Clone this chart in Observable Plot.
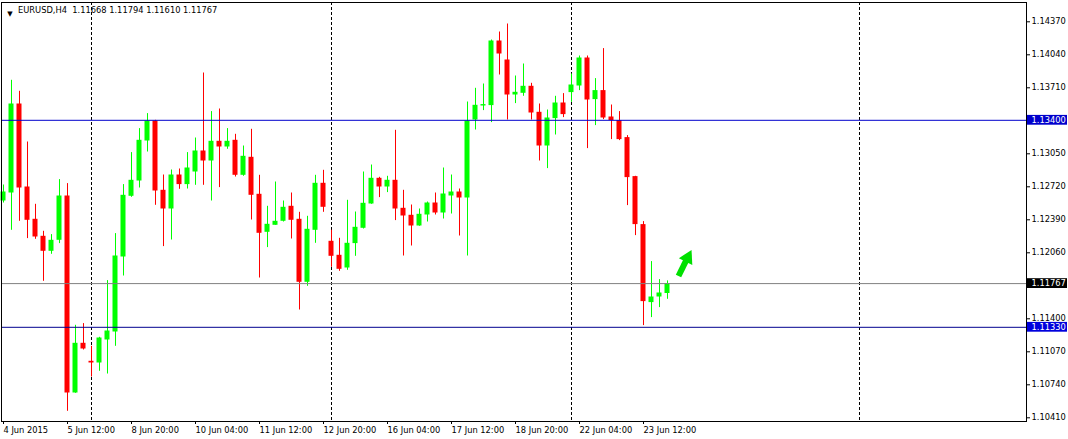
<!DOCTYPE html>
<html>
<head>
<meta charset="utf-8">
<script src="https://cdn.jsdelivr.net/npm/d3@7"></script>
<script src="https://cdn.jsdelivr.net/npm/@observablehq/plot@0.6"></script>
<style>
html, body { margin: 0; padding: 0; background: #ffffff; }
#chart { width: 1068px; height: 439px; overflow: hidden; }
</style>
</head>
<body>
<div id="chart"></div>
<script>
// ---------- data ----------
const symbol = "EURUSD,H4";

const opens = [
  1.12593, 1.12673, 1.13563, 1.12733, 1.12410, 1.12240, 1.12090, 1.12200, 1.12643, 1.10673,
  1.11170, 1.10990, 1.10973, 1.11203, 1.11283, 1.12033, 1.12640, 1.12793, 1.13193, 1.13393,
  1.12700, 1.12513, 1.12853, 1.12757, 1.12883, 1.13093, 1.12993, 1.13190, 1.13133, 1.13200,
  1.12850, 1.13030, 1.12660, 1.12280, 1.12350, 1.12390, 1.12540, 1.12410, 1.11780, 1.12300,
  1.12770, 1.12190, 1.12050, 1.11923, 1.12167, 1.12320, 1.12563, 1.12820, 1.12733, 1.12800,
  1.12520, 1.12450, 1.12343, 1.12453, 1.12573, 1.12473, 1.12643, 1.12683, 1.12623, 1.13403,
  1.13543, 1.13547, 1.14193, 1.14003, 1.13653, 1.13670, 1.13740, 1.13480, 1.13143, 1.13417,
  1.13573, 1.13677, 1.13743, 1.14023, 1.13607, 1.13697, 1.13433, 1.13397, 1.13227, 1.12837,
  1.12357, 1.11577, 1.11633, 1.11668
];
const highs = [
  1.12753, 1.13800, 1.13690, 1.13183, 1.12560, 1.12290, 1.12257, 1.12807, 1.12767, 1.11350,
  1.11367, 1.11140, 1.11230, 1.11797, 1.12267, 1.12757, 1.13077, 1.13317, 1.13467, 1.13400,
  1.12853, 1.12903, 1.12913, 1.13077, 1.13223, 1.13873, 1.13487, 1.13513, 1.13317, 1.13260,
  1.13143, 1.13310, 1.12850, 1.12540, 1.12783, 1.12593, 1.12673, 1.12480, 1.12440, 1.12850,
  1.12900, 1.12300, 1.12220, 1.12600, 1.12483, 1.12883, 1.12953, 1.12830, 1.12840, 1.13300,
  1.12700, 1.12553, 1.12513, 1.12583, 1.12673, 1.12923, 1.12853, 1.12713, 1.13583, 1.13720,
  1.13763, 1.14203, 1.14283, 1.14363, 1.13843, 1.13963, 1.13770, 1.13563, 1.13503, 1.13640,
  1.13667, 1.13863, 1.14043, 1.14043, 1.13817, 1.14117, 1.13553, 1.13487, 1.13247, 1.12840,
  1.12387, 1.11987, 1.11807, 1.11794
];
const lows = [
  1.12573, 1.12300, 1.12390, 1.12217, 1.12210, 1.11790, 1.12060, 1.12167, 1.10490, 1.10670,
  1.11103, 1.10833, 1.10890, 1.10863, 1.11140, 1.11843, 1.12630, 1.12723, 1.13083, 1.12550,
  1.12137, 1.12203, 1.12710, 1.12713, 1.12750, 1.12750, 1.12593, 1.12727, 1.13110, 1.12833,
  1.12840, 1.12403, 1.11823, 1.12127, 1.12350, 1.12383, 1.12213, 1.11503, 1.11740, 1.12170,
  1.12480, 1.11930, 1.11890, 1.11900, 1.12040, 1.12313, 1.12560, 1.12627, 1.12677, 1.12397,
  1.12043, 1.12143, 1.12340, 1.12383, 1.12453, 1.12413, 1.12463, 1.12243, 1.12043, 1.13303,
  1.13497, 1.13377, 1.13853, 1.13403, 1.13567, 1.13640, 1.13403, 1.12993, 1.12917, 1.13253,
  1.13427, 1.13580, 1.13697, 1.13117, 1.13347, 1.13407, 1.13207, 1.13197, 1.12547, 1.12247,
  1.11347, 1.11427, 1.11527, 1.11610
];
const closes = [
  1.12683, 1.13563, 1.12723, 1.12400, 1.12233, 1.12090, 1.12200, 1.12643, 1.10673, 1.11170,
  1.11113, 1.10973, 1.11223, 1.11293, 1.12043, 1.12650, 1.12800, 1.13200, 1.13393, 1.12693,
  1.12513, 1.12853, 1.12757, 1.12923, 1.13093, 1.12993, 1.13190, 1.13133, 1.13190, 1.12850,
  1.13040, 1.12650, 1.12270, 1.12360, 1.12390, 1.12530, 1.12400, 1.11780, 1.12310, 1.12770,
  1.12530, 1.12040, 1.11910, 1.12170, 1.12330, 1.12570, 1.12820, 1.12733, 1.12800, 1.12513,
  1.12443, 1.12343, 1.12460, 1.12573, 1.12473, 1.12663, 1.12683, 1.12623, 1.13393, 1.13550,
  1.13557, 1.14193, 1.14063, 1.13653, 1.13680, 1.13740, 1.13473, 1.13143, 1.13423, 1.13573,
  1.13457, 1.13753, 1.14023, 1.13603, 1.13697, 1.13423, 1.13397, 1.13207, 1.12827, 1.12357,
  1.11587, 1.11633, 1.11673, 1.11767
];

const timeLabels = ["4 Jun 2015", "5 Jun 12:00", "8 Jun 20:00", "10 Jun 04:00", "11 Jun 12:00",
  "12 Jun 20:00", "16 Jun 04:00", "17 Jun 12:00", "18 Jun 20:00", "22 Jun 04:00", "23 Jun 12:00"];
const timeLabelBars = [0, 8, 16, 24, 32, 40, 48, 56, 64, 72, 80];

const priceTicks = [1.14370, 1.14040, 1.13710, 1.13380, 1.13050, 1.12720, 1.12390,
  1.12060, 1.11730, 1.11400, 1.11070, 1.10740, 1.10410];

const separatorBars = [11, 41, 71, 107];          // period separators (bar index)
const levelPrices = [1.13400, 1.11330];            // horizontal lines
const arrowBars = [84.375, 85.51];                 // arrow tail -> head centre (bar index)
const arrowPrices = [1.11843, 1.12026];            // arrow tail -> head centre (price)

// ---------- derived tables ----------
const bars = opens.map((o, i) => ({i, o, h: highs[i], l: lows[i], c: closes[i], up: closes[i] >= o}));
const last = bars[bars.length - 1];
const bid = last.c;
const fmt = v => v.toFixed(5);
const labelByBar = new Map(timeLabelBars.map((b, k) => [b, timeLabels[k]]));
const arrowPts = arrowBars.map((b, k) => ({x: b, y: arrowPrices[k]}));

const UP = "#00ff00", DOWN = "#ff0000";
const priceBoxes = [
  {price: levelPrices[0], bg: "#0000cc"},
  {price: levelPrices[1], bg: "#0000dd"},
  {price: bid, bg: "#000000"}
];
// tick labels that sit under a price box are hidden by it
const hiddenTick = t => priceBoxes.some(b => Math.abs(b.price - t) < 0.0005);
const nb = "\u00a0";
const title = `${symbol}${nb}${nb}${fmt(last.o)} ${fmt(last.h)} ${fmt(last.l)} ${fmt(last.c)}`;

// box extent in the right margin, in bar units, and half height in price units
const boxX1 = 128, boxX2 = 133, boxHalf = 0.00049;

const chart = Plot.plot({
  width: 1068,
  height: 439,
  marginLeft: 1,
  marginRight: 42,
  marginTop: 2,
  marginBottom: 18,
  style: {fontFamily: "DejaVu Sans", fontSize: "8.3px", background: "#ffffff", color: "#000000"},
  x: {domain: [-0.25, 127.875]},
  y: {domain: [1.10388, 1.14578]},
  color: {type: "identity"},
  marks: [
    Plot.ruleX(separatorBars, {stroke: "#000000", strokeDasharray: "3,2"}),
    Plot.ruleX(bars, {x: "i", y1: "l", y2: "h", stroke: d => d.up ? UP : DOWN, strokeWidth: 1}),
    Plot.rect(bars, {x1: d => d.i - 0.3125, x2: d => d.i + 0.3125, y1: "o", y2: "c", fill: d => d.up ? UP : DOWN}),
    Plot.ruleY([levelPrices[0]], {stroke: "#0000cc"}),
    Plot.ruleY([levelPrices[1]], {stroke: "#00008f"}),
    Plot.ruleY([bid], {stroke: "#808080"}),
    Plot.line(arrowPts, {x: "x", y: "y", stroke: "#00e000", strokeWidth: 6, strokeLinecap: "butt"}),
    Plot.dot(arrowPts.slice(1), {x: "x", y: "y", symbol: "triangle", r: 5.6, rotate: 27, fill: "#00e000", stroke: "none"}),
    Plot.frame({stroke: "#000000"}),
    Plot.axisY({anchor: "right", ticks: priceTicks, tickFormat: t => hiddenTick(t) ? "" : fmt(t),
      tickSize: 3, tickPadding: 2, dy: -1.5, label: null}),
    Plot.axisX({anchor: "bottom", ticks: timeLabelBars, tickFormat: d => labelByBar.get(d), textAnchor: "start",
      tickSize: 3, tickPadding: 3, label: null}),
    Plot.rect(priceBoxes, {x1: boxX1, x2: boxX2, y1: d => d.price - boxHalf, y2: d => d.price + boxHalf,
      fill: d => d.bg, clip: false}),
    Plot.text(priceBoxes, {y: "price", text: d => fmt(d.price), frameAnchor: "right", dx: 5,
      textAnchor: "start", fill: "#ffffff"}),
    Plot.text([title], {text: d => d, frameAnchor: "top-left", dx: 16.5, dy: 5, textAnchor: "start",
      lineAnchor: "top", fill: "#000000"}),
    Plot.text(["\u25BC"], {text: d => d, frameAnchor: "top-left", dx: 8.5, dy: 8.5, fontSize: 7,
      textAnchor: "middle", fill: "#000000"})
  ]
});

document.getElementById("chart").append(chart);
</script>
</body>
</html>
